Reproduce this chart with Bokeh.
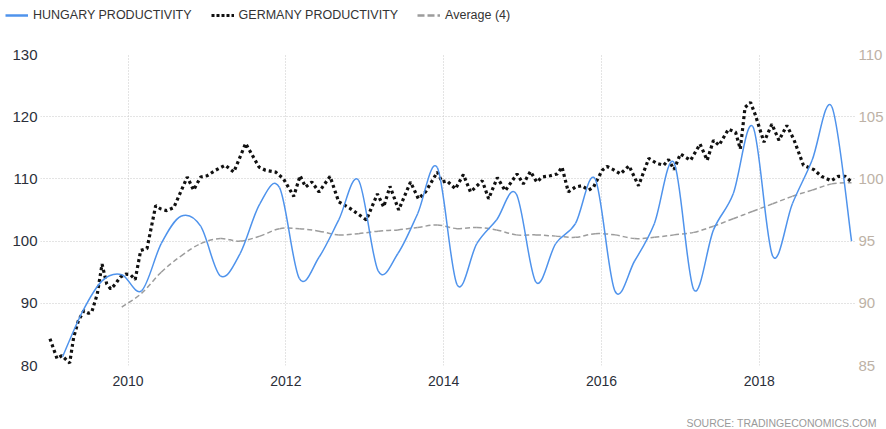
from bokeh.plotting import figure
from bokeh.layouts import column
from bokeh.models import (Range1d, LinearAxis, FixedTicker, Legend, LegendItem,
                          Label, ColumnDataSource)
from bokeh.embed import file_html
from bokeh.resources import INLINE

# ---------------- data ----------------
hungary_dates = [2009.17, 2009.42, 2009.67, 2009.92,
                 2010.17, 2010.42, 2010.67, 2010.92,
                 2011.17, 2011.42, 2011.67, 2011.92,
                 2012.17, 2012.42, 2012.67, 2012.92,
                 2013.17, 2013.42, 2013.67, 2013.92,
                 2014.17, 2014.42, 2014.67, 2014.92,
                 2015.17, 2015.42, 2015.67, 2015.92,
                 2016.17, 2016.42, 2016.67, 2016.92,
                 2017.17, 2017.42, 2017.67, 2017.92,
                 2018.17, 2018.42, 2018.67, 2018.92,
                 2019.17]
hungary_values = [85.7, 89.3, 91.8, 92.3,
                  91.0, 94.8, 97.0, 96.2,
                  92.2, 94.0, 98.0, 99.3,
                  92.0, 93.7, 96.7, 99.9,
                  92.6, 94.0, 97.2, 100.9,
                  91.5, 94.8, 96.7, 98.8,
                  91.7, 94.8, 96.4, 100.0,
                  91.0, 93.4, 96.4, 101.3,
                  91.1, 95.9, 98.8, 104.2,
                  93.8, 98.0, 101.5, 105.8,
                  95.0]

average_dates = hungary_dates[3:]
average_values = [89.7, 90.8, 92.5, 93.8, 94.8,
                  95.2, 95.0, 95.4, 96.0,
                  96.0, 95.8, 95.5, 95.6,
                  95.8, 95.9, 96.1, 96.3,
                  96.0, 96.1, 95.9, 95.5,
                  95.5, 95.4, 95.3, 95.6,
                  95.5, 95.2, 95.3, 95.5,
                  95.7, 96.2, 96.8, 97.4,
                  98.0, 98.6, 99.1, 99.6,
                  99.7]

germany_dates = [2009.01, 2009.10, 2009.16, 2009.26, 2009.31, 2009.37, 2009.44, 2009.50,
                 2009.54, 2009.61, 2009.67, 2009.73, 2009.78, 2009.84, 2009.90, 2009.97,
                 2010.03, 2010.09, 2010.16, 2010.24, 2010.35, 2010.41, 2010.49, 2010.58,
                 2010.75, 2010.83, 2010.92, 2011.00, 2011.11, 2011.23, 2011.34, 2011.49,
                 2011.66, 2011.74, 2011.87, 2011.97, 2012.10, 2012.18, 2012.25, 2012.33,
                 2012.42, 2012.56, 2012.67, 2012.82, 2013.02, 2013.16, 2013.24, 2013.32,
                 2013.43, 2013.58, 2013.68, 2013.77, 2013.92, 2013.98, 2014.04, 2014.15,
                 2014.25, 2014.34, 2014.49, 2014.57, 2014.68, 2014.78, 2014.93, 2015.01,
                 2015.10, 2015.18, 2015.25, 2015.35, 2015.44, 2015.50, 2015.58, 2015.67,
                 2015.75, 2015.84, 2015.90, 2015.94, 2016.01, 2016.07, 2016.15, 2016.24,
                 2016.35, 2016.47, 2016.60, 2016.70, 2016.79, 2016.85, 2016.92, 2017.00,
                 2017.13, 2017.25, 2017.34, 2017.42, 2017.49, 2017.61, 2017.70, 2017.76,
                 2017.82, 2017.89, 2017.95, 2018.06, 2018.16, 2018.25, 2018.35, 2018.44,
                 2018.56, 2018.69, 2018.79, 2018.91, 2019.00, 2019.09, 2019.18]
germany_values = [84.3, 81.1, 81.6, 80.4, 84.5, 87.2, 88.8, 88.4,
                  88.6, 91.5, 96.3, 93.1, 92.3, 93.1, 94.2, 94.7,
                  94.6, 93.8, 98.5, 98.8, 105.7, 105.2, 104.9, 105.4,
                  110.3, 108.2, 110.3, 110.5, 111.4, 112.2, 111.1, 115.7,
                  111.9, 111.4, 111.1, 110.0, 107.2, 110.5, 108.7, 109.5,
                  107.9, 110.4, 106.3, 105.2, 103.4, 107.6, 105.5, 108.8,
                  105.0, 109.5, 106.8, 107.9, 111.1, 109.5, 109.7, 108.4,
                  110.7, 107.9, 109.7, 106.8, 110.2, 108.1, 110.8, 109.2,
                  111.2, 109.5, 110.3, 110.5, 110.8, 111.9, 107.9, 108.7,
                  108.9, 108.2, 108.7, 109.7, 111.4, 112.0, 111.5, 110.8,
                  112.1, 108.9, 113.3, 112.5, 112.2, 113.1, 111.5, 114.0,
                  113.0, 115.6, 113.0, 116.2, 115.4, 118.0, 117.5, 114.8,
                  121.5, 122.3, 120.3, 115.9, 118.8, 116.2, 118.6, 116.3,
                  112.2, 111.5, 110.4, 109.7, 110.4, 110.4, 109.4]

year_ticks = [2010, 2012, 2014, 2016, 2018]
left_ticks = [80, 90, 100, 110, 120, 130]
right_ticks = [85, 90, 95, 100, 105, 110]

legend_labels = ["HUNGARY PRODUCTIVITY", "GERMANY PRODUCTIVITY", "Average (4)"]
source_text = "SOURCE:  TRADINGECONOMICS.COM"

# ---------------- helpers ----------------
def spline_segments(xs, ys):
    """Catmull-Rom spline through the points, as cubic Bezier segments."""
    n = len(xs)
    out = dict(x0=[], y0=[], x1=[], y1=[], cx0=[], cy0=[], cx1=[], cy1=[])
    for i in range(n - 1):
        xm, ym = (xs[i - 1], ys[i - 1]) if i > 0 else (xs[i], ys[i])
        xp, yp = (xs[i + 2], ys[i + 2]) if i + 2 < n else (xs[i + 1], ys[i + 1])
        out["x0"].append(xs[i]); out["y0"].append(ys[i])
        out["x1"].append(xs[i + 1]); out["y1"].append(ys[i + 1])
        out["cx0"].append(xs[i] + (xs[i + 1] - xm) / 6.0)
        out["cy0"].append(ys[i] + (ys[i + 1] - ym) / 6.0)
        out["cx1"].append(xs[i + 1] - (xp - xs[i]) / 6.0)
        out["cy1"].append(ys[i + 1] - (yp - ys[i]) / 6.0)
    return ColumnDataSource(out)


def bare_figure(height):
    f = figure(width=886, height=height, output_backend="svg", toolbar_location=None,
               x_axis_location=None, y_axis_location=None,
               x_range=Range1d(0, 1), y_range=Range1d(0, 1),
               min_border=0, min_border_left=0, min_border_right=0,
               min_border_top=0, min_border_bottom=0)
    f.outline_line_color = None
    f.grid.visible = False
    f.frame_align = False
    return f


BLUE = "#4f93ec"
AVG = "#9c9c9c"
BLACK = "#111111"
FONT = "Liberation Sans"
NAN = float("nan")

# ---------------- legend strip ----------------
lf = bare_figure(30)
r_h = lf.line([NAN], [NAN], line_color=BLUE, line_width=2.5)
r_g = lf.line([NAN], [NAN], line_color=BLACK, line_width=3, line_dash="3 2")
r_a = lf.line([NAN], [NAN], line_color=AVG, line_width=2.5, line_dash="7 3")
legend = Legend(items=[LegendItem(label=legend_labels[0], renderers=[r_h]),
                       LegendItem(label=legend_labels[1], renderers=[r_g]),
                       LegendItem(label=legend_labels[2], renderers=[r_a])],
                location=(5, 8), orientation="horizontal",
                glyph_width=23, glyph_height=14, label_height=14,
                label_standoff=5, spacing=19, padding=0, margin=0,
                border_line_color=None, background_fill_alpha=0,
                label_text_font=FONT, label_text_font_size="12.5px",
                label_text_color="#333333")
lf.add_layout(legend)

# ---------------- main chart ----------------
p = figure(width=886, height=380, output_backend="svg", toolbar_location=None,
           x_range=Range1d(2008.89, 2019.22), y_range=Range1d(80, 130),
           min_border_left=40, min_border_right=31, min_border_top=24,
           min_border_bottom=45)
p.outline_line_color = None
p.frame_align = False
p.extra_y_ranges = {"right": Range1d(85, 110)}

p.xgrid.ticker = FixedTicker(ticks=year_ticks)
p.ygrid.ticker = FixedTicker(ticks=left_ticks)
for g in (p.xgrid, p.ygrid):
    g.grid_line_color = "#c8c8c8"
    g.grid_line_dash = "1 2"
    g.grid_line_width = 1

xa = p.xaxis[0]
xa.ticker = FixedTicker(ticks=year_ticks)
xa.axis_line_color = None
xa.major_tick_line_color = None
xa.minor_tick_line_color = None
xa.major_tick_out = 0
xa.major_label_standoff = 10
xa.major_label_text_font = FONT
xa.major_label_text_font_size = "14px"
xa.major_label_text_color = "#2b2f3a"

ya = p.yaxis[0]
ya.ticker = FixedTicker(ticks=left_ticks)
ya.axis_line_color = None
ya.major_tick_line_color = None
ya.minor_tick_line_color = None
ya.major_tick_out = 0
ya.major_label_standoff = 3
ya.major_label_text_font = FONT
ya.major_label_text_font_size = "15px"
ya.major_label_text_color = "#2b2f3a"

ra = LinearAxis(y_range_name="right", ticker=FixedTicker(ticks=right_ticks))
ra.axis_line_color = None
ra.major_tick_line_color = None
ra.minor_tick_line_color = None
ra.major_tick_out = 0
ra.major_label_standoff = 3
ra.major_label_text_font = FONT
ra.major_label_text_font_size = "15px"
ra.major_label_text_color = "#bdb2a6"
p.add_layout(ra, "right")

p.bezier(x0="x0", y0="y0", x1="x1", y1="y1", cx0="cx0", cy0="cy0", cx1="cx1", cy1="cy1",
         source=spline_segments(average_dates, average_values), y_range_name="right",
         line_color=AVG, line_width=1.5, line_dash="5 3")
p.line(germany_dates, germany_values, line_color=BLACK, line_width=3.2, line_dash="3 3")
p.bezier(x0="x0", y0="y0", x1="x1", y1="y1", cx0="cx0", cy0="cy0", cx1="cx1", cy1="cy1",
         source=spline_segments(hungary_dates, hungary_values), y_range_name="right",
         line_color=BLUE, line_width=1.5)

# ---------------- source strip ----------------
sf = bare_figure(19)
sf.add_layout(Label(x=879, y=7, x_units="screen", y_units="screen", text=source_text,
                    text_align="right", text_baseline="middle", text_font=FONT,
                    text_font_size="10.5px", text_color="#9a9a9a"))

layout = column(lf, p, sf, spacing=0)
open("out.html", "w").write(file_html(layout, INLINE))
